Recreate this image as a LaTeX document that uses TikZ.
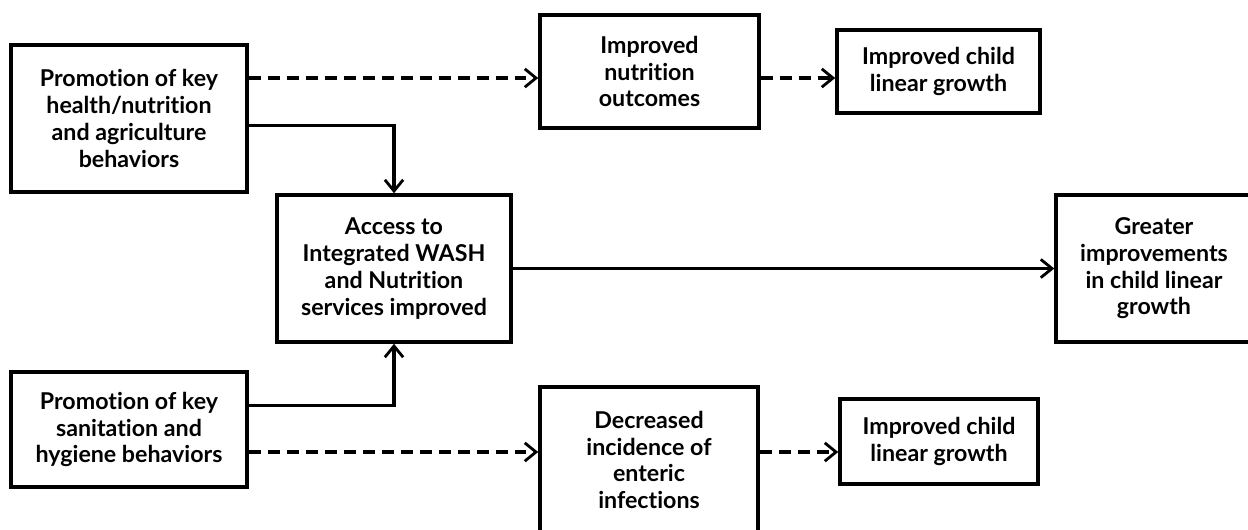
\documentclass[tikz,border=0pt]{standalone}
\usepackage{fontspec}
\setmainfont[Ligatures=NoCommon]{Lato}
\usetikzlibrary{arrows.meta}

\begin{document}
\begin{tikzpicture}[x=0.025cm, y=-0.025cm,
  box/.style={draw=black, line width=2.5pt, fill=white, align=center, inner sep=0pt,
    font={\bfseries\fontsize{16.5}{19}\selectfont}},
  link/.style={line width=2.5pt, -{Straight Barb[length=8pt, width=13pt, line width=2pt]}},
  maybe/.style={link, dash pattern=on 8.5pt off 5pt}]

\useasboundingbox (0,0) rectangle (1248,529);

\node [box, minimum width=236*0.025cm, minimum height=147*0.025cm] (promoHealth) at (129, 118.5)
  {Promotion of key\\health/nutrition\\and agriculture\\behaviors};

\node [box, minimum width=219*0.025cm, minimum height=113*0.025cm] (nutriOut) at (649.5, 71.5)
  {Improved\\nutrition\\outcomes};

\node [box, minimum width=203*0.025cm, minimum height=83*0.025cm] (growthTop) at (938.5, 71.5)
  {Improved child\\linear growth};

\node [box, minimum width=234*0.025cm, minimum height=147*0.025cm] (access) at (394, 268.5)
  {Access to\\Integrated WASH\\and Nutrition\\services improved};

\node [box, minimum width=236*0.025cm, minimum height=115*0.025cm] (promoSan) at (129, 429.5)
  {Promotion of key\\sanitation and\\hygiene behaviors};

\node [box, minimum width=218*0.025cm, minimum height=146*0.025cm] (enteric) at (649, 460)
  {Decreased\\incidence of\\enteric\\infections};

\node [box, minimum width=198*0.025cm, minimum height=85*0.025cm] (growthBot) at (939, 441.5)
  {Improved child\\linear growth};

\node [box, minimum width=196*0.025cm, minimum height=147*0.025cm] (greater) at (1154, 268.5)
  {Greater\\improvements\\in child linear\\growth};

% connectors
\coordinate (hOut) at ([yshift=28.8pt]promoHealth.east);
\coordinate (sOut) at ([yshift=-16pt]promoSan.east);

\draw [maybe] (hOut) -- (hOut -| nutriOut.west);
\draw [maybe] (nutriOut.east |- hOut) -- (growthTop.west |- hOut);
\draw [link] ([yshift=-5pt]promoHealth.east) -| (access.north);
\draw [link] ([yshift=17pt]promoSan.east) -| (access.south);
\draw [maybe] (sOut) -- (sOut -| enteric.west);
\draw [maybe] (enteric.east |- sOut) -- (growthBot.west |- sOut);
\draw [link] (access.east) -- (greater.west);

\end{tikzpicture}
\end{document}
